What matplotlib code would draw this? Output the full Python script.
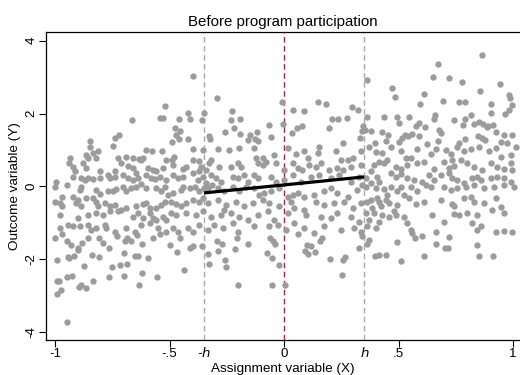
import matplotlib
matplotlib.use("Agg")
import matplotlib.pyplot as plt
import numpy as np

plt.rcParams['font.family'] = ['Liberation Sans', 'DejaVu Sans']
plt.rcParams['axes.unicode_minus'] = False

# bandwidth and local linear fit
h = 0.35
fit_x = [-0.35, 0.35]
fit_y = [-0.18, 0.26]

# scatter points, left part (x < -h)
x_left = [-0.40, -0.52, -0.665, -0.54, -0.53, -0.46, -0.42, -0.41, -0.35, -0.36, -0.74, -0.72, -0.85, -0.476, -0.473, -0.454, -0.46, -0.49, -0.42,
          -0.85, -0.835, -0.814, -0.748, -0.602, -0.576, -0.532, -0.399, -0.355, -0.935, -0.865, -0.857, -0.82, -0.726, -0.69, -0.658, -0.634, -0.617, -0.479, -0.489, -0.515,
          -0.94, -0.92, -0.915, -0.88, -0.867, -0.806, -0.74, -0.712, -0.683, -0.66, -0.646, -0.624, -0.595, -0.573, -0.559, -0.53, -0.486, -0.442, -0.428, -0.399, -0.37, -0.362, -0.37,
          -0.92, -0.886, -0.87, -0.857, -0.835, -0.806, -0.77, -0.762, -0.74, -0.704, -0.683, -0.66, -0.639, -0.602, -0.58, -0.566, -0.544, -0.515, -0.486, -0.464, -0.442, -0.399, -0.377, -0.355, -0.995, -0.95, -1.00,
          -0.886, -0.89, -0.82, -0.806, -0.77, -0.748, -0.733, -0.704, -0.69, -0.668, -0.646, -0.624, -0.602, -0.559, -0.537, -0.522, -0.508, -0.486, -0.45, -0.442, -0.413, -0.391, -0.37, -0.348, -0.97, -0.92, -0.90, -0.865, -0.835,
          -0.98, -0.97, -0.91, -0.886, -0.82, -0.814, -0.784, -0.762, -0.74, -0.69, -0.646, -0.617, -0.602, -0.588, -0.559, -0.537, -0.522, -0.493, -0.471, -0.45, -0.428, -0.399, -0.37, -0.355, -1.00,
          -0.98, -0.90, -0.857, -0.82, -0.79, -0.762, -0.726, -0.712, -0.66, -0.639, -0.617, -0.588, -0.573, -0.53, -0.515, -0.493, -0.471, -0.428, -0.384, -0.355, -0.624, -0.588, -0.559,
          -0.98, -0.944, -0.92, -0.89, -0.857, -0.843, -0.82, -0.784, -0.777, -0.74, -0.69, -0.653, -0.551, -0.515, -0.486, -0.464, -0.42, -0.399, -0.37,
          -1.00, -0.97, -0.95, -0.93, -0.90, -0.90, -0.884, -0.855, -0.81, -0.79, -0.767, -0.73, -0.695, -0.668, -0.687, -0.644, -0.622, -0.571, -0.542, -0.498, -0.454, -0.41, -0.396, -0.36,
          -0.99, -0.942, -0.94, -0.916, -0.84, -0.81, -0.698, -0.651, -0.64, -0.596, -0.469, -0.753, -0.716, -0.687, -0.872,
          -0.99, -0.983, -0.95, -0.928, -0.974, -0.99, -0.898, -0.887, -0.866, -0.833, -0.767, -0.698, -0.619, -0.634, -0.556, -0.436, -0.95]
y_left = [3.03, 2.22, 1.81, 1.88, 1.88, 1.85, 2.01, 1.85, 2.01, 1.81, 1.33, 1.42, 1.24, 1.61, 1.41, 1.52, 1.30, 1.22, 1.29,
          1.09, 0.91, 0.96, 1.11, 1.00, 0.98, 0.96, 1.03, 1.00, 0.79, 0.87, 0.77, 0.77, 0.77, 0.82, 0.79, 0.76, 0.77, 0.82, 0.73, 0.73,
          0.64, 0.52, 0.41, 0.64, 0.50, 0.41, 0.43, 0.64, 0.57, 0.50, 0.36, 0.73, 0.50, 0.45, 0.41, 0.50, 0.59, 0.48, 0.545, 0.73, 0.70, 0.545, 0.41,
          0.27, 0.22, 0.18, 0.22, 0.21, 0.22, 0.30, 0.22, 0.27, 0.32, 0.22, 0.18, 0.22, 0.32, 0.22, 0.21, 0.27, 0.18, 0.32, 0.22, 0.27, 0.36, 0.18, 0.27, 0.13, 0.04, -0.03,
          -0.005, -0.10, -0.10, -0.215, -0.14, -0.12, -0.07, -0.005, -0.14, -0.05, -0.005, 0.06, -0.05, -0.05, -0.14, -0.03, -0.23, -0.19, -0.10, -0.005, -0.05, -0.03, -0.14, -0.05, -0.28, -0.28, -0.37, -0.325, -0.325,
          -0.46, -0.55, -0.46, -0.55, -0.42, -0.55, -0.46, -0.55, -0.51, -0.60, -0.55, -0.49, -0.46, -0.60, -0.60, -0.51, -0.435, -0.42, -0.49, -0.55, -0.46, -0.37, -0.42, -0.325, -0.42,
          -0.78, -0.86, -0.78, -0.74, -0.78, -0.69, -0.69, -0.65, -0.83, -0.74, -0.86, -0.74, -0.87, -0.83, -0.92, -0.74, -0.78, -0.74, -0.78, -0.69, -1.06, -1.01, -0.92,
          -1.15, -1.06, -1.10, -1.10, -1.06, -1.20, -1.15, -1.06, -1.15, -1.24, -1.15, -1.24, -1.15, -1.24, -1.15, -1.26, -1.15, -1.26, -1.06,
          -1.41, -1.32, -1.49, -1.60, -1.69, -1.74, -1.55, -1.41, -1.41, -1.55, -1.69, -1.37, -1.51, -1.49, -1.41, -1.34, -1.58, -1.41, -1.32, -1.60, -1.41, -1.69, -1.64, -1.64,
          -2.01, -1.94, -1.98, -1.92, -1.89, -1.95, -1.83, -1.92, -1.92, -1.96, -1.80, -2.22, -2.15, -2.13, -2.20,
          -2.59, -2.61, -2.50, -2.46, -2.85, -2.97, -2.77, -2.72, -2.79, -2.59, -2.49, -2.46, -2.39, -2.70, -2.48, -2.29, -3.73]

# scatter points, middle part (-h < x < h)
x_mid = [-0.294, -0.01, 0.038, 0.087, 0.146, 0.183, 0.295, 0.322, -0.226, -0.234, -0.192, -0.217, -0.258, -0.192, -0.149, -0.156, -0.119, -0.068, -0.057, -0.003, 0.033, 0.055, 0.08, 0.208, 0.237, 0.274, 0.196, 0.346, 0.339, 0.332, -0.33, -0.323, -0.112, -0.127, 0.255,
         -0.29, -0.24, -0.196, -0.131, -0.123, -0.094, -0.043, 0.015, 0.051, 0.088, 0.102, 0.146, 0.153, 0.226, 0.248, 0.277, 0.299, 0.335, -0.32,
         -0.327, -0.283, -0.233, -0.203, -0.189, -0.116, -0.094, -0.08, -0.036, 0.0, 0.037, 0.059, 0.08, 0.11, 0.139, 0.16, 0.197, 0.233, 0.255, 0.291, 0.335, -0.342,
         -0.32, -0.298, -0.276, -0.225, -0.203, -0.174, -0.16, -0.131, -0.116, -0.058, -0.036, 0.0, 0.037, 0.073, 0.117, 0.153, 0.204, 0.24, 0.291, 0.328, -0.342, -0.313,
         -0.334, -0.29, -0.262, -0.225, -0.196, -0.167, -0.131, -0.109, -0.087, -0.058, -0.021, 0.015, 0.037, 0.059, 0.088, 0.131, 0.175, 0.204, 0.233, 0.277, 0.32, 0.342,
         -0.334, -0.29, -0.254, -0.211, -0.174, -0.138, -0.094, -0.065, -0.021, 0.03, 0.044, 0.088, 0.139, 0.175, 0.219, 0.262, 0.299, 0.335, -0.262,
         -0.32, -0.276, -0.233, -0.196, -0.16, -0.116, -0.072, -0.043, 0.015, 0.044, 0.095, 0.16, 0.204, 0.233, 0.291, 0.328, -0.305, -0.225,
         -0.334, -0.269, -0.203, -0.131, -0.065, -0.029, 0.007, 0.088, 0.131, 0.175, 0.248, 0.306, 0.335,
         -0.333, -0.33, -0.294, -0.29, -0.272, -0.26, -0.255, -0.214, -0.207, -0.202, -0.159, -0.076, -0.061, -0.054, -0.047, -0.04, -0.022, -0.051, 0.004, 0.06, 0.092, 0.099, 0.106, 0.118, 0.135, 0.157, 0.164, 0.201, 0.252, 0.259, 0.266, 0.325, 0.339]
y_mid = [2.43, 2.32, 2.11, 2.06, 2.32, 2.25, 2.17, 2.11, 2.06, 1.81, 1.84, 1.61, 1.50, 1.44, 1.42, 1.26, 1.50, 1.68, 1.35, 1.70, 1.47, 1.59, 1.67, 1.86, 1.84, 1.88, 1.61, 1.65, 1.52, 1.33, 1.38, 1.29, 1.24, 1.29, 1.19,
         1.03, 1.00, 1.05, 1.05, 0.77, 0.77, 0.87, 1.05, 0.88, 0.96, 0.77, 0.91, 1.09, 0.96, 0.73, 0.73, 0.79, 0.96, 0.73,
         0.64, 0.545, 0.545, 0.64, 0.545, 0.64, 0.59, 0.68, 0.64, 0.45, 0.64, 0.50, 0.45, 0.59, 0.545, 0.64, 0.45, 0.50, 0.45, 0.545, 0.59, 0.45,
         0.32, 0.22, 0.13, 0.27, 0.22, 0.32, 0.13, 0.32, 0.22, 0.27, 0.13, 0.18, 0.32, 0.13, 0.27, 0.32, 0.22, 0.32, 0.13, 0.27, 0.09, 0.04,
         -0.05, -0.05, -0.14, -0.005, -0.14, -0.005, -0.05, -0.23, -0.19, -0.14, -0.05, -0.28, -0.23, -0.19, -0.28, -0.23, -0.14, -0.05, -0.19, -0.28, -0.10, 0.04,
         -0.46, -0.37, -0.51, -0.42, -0.55, -0.46, -0.37, -0.46, -0.55, -0.42, -0.60, -0.65, -0.42, -0.51, -0.46, -0.42, -0.60, -0.46, -0.65,
         -0.83, -0.78, -0.74, -0.83, -0.92, -0.78, -0.69, -0.92, -0.74, -1.01, -0.78, -0.83, -0.87, -0.74, -0.83, -0.97, -1.06, -1.01,
         -1.20, -1.15, -1.26, -1.10, -1.10, -1.06, -1.20, -1.15, -1.29, -1.10, -1.20, -1.15, -1.26,
         -1.87, -2.13, -1.49, -1.78, -1.58, -2.01, -2.22, -1.71, -1.43, -2.70, -1.58, -1.84, -1.41, -1.96, -1.51, -1.58, -2.17, -2.71, -2.71, -1.32, -1.78, -1.60, -1.85, -1.64, -1.80, -1.51, -1.41, -1.99, -2.44, -2.01, -1.95, -1.69, -1.37]

# scatter points, right part (x > h)
x_right = [0.866, 0.674, 0.65, 0.718, 0.776, 0.944, 0.361, 0.473, 0.482, 0.609, 0.594, 0.693, 0.762, 0.788, 0.856, 0.98, 0.987, 0.904, 0.994, 0.98, 0.965, 0.904, 0.361, 0.434, 0.492, 0.50, 0.546, 0.66, 0.655, 0.74, 0.79, 0.817, 0.827, 0.783, 0.849, 0.87, 0.89, 0.914, 0.587, 0.575, 0.613, 0.354, 0.38, 0.427, 0.453, 0.50, 0.514, 0.526, 0.543, 0.56, 0.587, 0.677, 0.686, 0.671, 0.958, 0.994, 0.925, 0.885, 0.846, 0.863, 0.878, 0.948, 0.973, 0.764, 0.79, 0.398, 0.444, 0.623,
           0.371, 0.40, 0.429, 0.465, 0.509, 0.531, 0.553, 0.582, 0.64, 0.662, 0.706, 0.727, 0.757, 0.786, 0.815, 0.851, 0.895, 0.924, 0.946, 0.99, 1.011, 0.735,
           0.393, 0.414, 0.436, 0.451, 0.487, 0.509, 0.538, 0.582, 0.611, 0.655, 0.698, 0.72, 0.742, 0.771, 0.80, 0.829, 0.866, 0.902, 0.931, 0.96, 0.99, 0.997, 0.378,
           0.356, 0.407, 0.465, 0.487, 0.509, 0.538, 0.567, 0.604, 0.633, 0.655, 0.684, 0.72, 0.735, 0.757, 0.786, 0.822, 0.844, 0.858, 0.902, 0.931, 0.96, 0.99, 0.378, 0.414,
           0.356, 0.40, 0.436, 0.465, 0.509, 0.553, 0.582, 0.618, 0.64, 0.698, 0.727, 0.757, 0.793, 0.829, 0.873, 0.917, 0.96, 1.004, 0.524, 0.546, 0.407, 0.378, 0.451, 0.495,
           0.364, 0.414, 0.444, 0.458, 0.495, 0.575, 0.611, 0.684, 0.735, 0.742, 0.786, 0.815, 0.829, 0.873, 0.924, 0.946, 0.909, 0.385, 0.422, 0.48,
           0.356, 0.393, 0.429, 0.458, 0.487, 0.524, 0.647, 0.742, 0.764, 0.80, 0.844, 0.96, 0.371, 0.414, 0.538, 0.698, 0.822, 0.858,
           0.364, 0.40, 0.553, 0.56, 0.662, 0.844, 0.924, 0.96, 0.997,
           0.369, 0.495, 0.572, 0.604, 0.663, 0.703, 0.714, 0.718, 0.843, 0.395, 0.415, 0.444, 0.511, 0.609, 0.853, 0.914, 0.361]
y_right = [3.62, 3.37, 3.0, 2.98, 2.87, 2.80, 2.91, 2.71, 2.45, 2.54, 2.25, 2.34, 2.32, 2.32, 2.61, 2.50, 2.43, 2.27, 2.23, 2.11, 1.99, 2.02, 1.90, 1.90, 1.90, 1.74, 1.90, 1.95, 1.86, 1.83, 1.86, 1.95, 1.70, 1.68, 1.77, 1.70, 1.65, 1.68, 1.74, 1.65, 1.63, 1.56, 1.52, 1.50, 1.42, 1.22, 1.33, 1.40, 1.38, 1.44, 1.38, 1.56, 1.47, 1.24, 1.41, 1.41, 1.50, 1.62, 1.38, 1.33, 1.26, 1.22, 1.19, 1.19, 1.29, 1.19, 1.24, 1.17,
           1.09, 0.94, 0.91, 1.09, 0.96, 0.79, 0.79, 1.03, 0.88, 1.03, 1.00, 0.88, 1.09, 0.96, 1.03, 1.09, 0.98, 1.05, 0.82, 0.87, 1.09, 0.73,
           0.59, 0.68, 0.64, 0.73, 0.545, 0.48, 0.59, 0.64, 0.66, 0.48, 0.66, 0.50, 0.57, 0.73, 0.64, 0.545, 0.45, 0.64, 0.52, 0.48, 0.64, 0.45, 0.41,
           0.22, 0.27, 0.36, 0.27, 0.33, 0.22, 0.18, 0.13, 0.30, 0.18, 0.32, 0.36, 0.22, 0.18, 0.09, 0.22, 0.27, 0.18, 0.22, 0.27, 0.22, 0.13, 0.09, 0.13,
           -0.005, -0.05, -0.07, -0.03, -0.005, -0.005, -0.14, 0.04, -0.005, -0.005, -0.10, -0.05, -0.005, 0.04, -0.05, -0.03, 0.04, -0.005, -0.23, -0.325, -0.325, -0.37, -0.23, -0.14,
           -0.42, -0.42, -0.37, -0.46, -0.51, -0.49, -0.435, -0.37, -0.49, -0.55, -0.325, -0.28, -0.435, -0.46, -0.31, -0.58, -0.65, -0.60, -0.55, -0.69,
           -0.74, -0.74, -0.78, -0.83, -0.78, -0.83, -0.78, -0.76, -0.78, -0.74, -0.78, -0.74, -0.92, -0.98, -1.01, -0.98, -1.01, -1.10,
           -1.10, -1.15, -1.20, -1.29, -1.24, -1.20, -1.26, -1.22, -1.26,
           -1.46, -1.52, -1.43, -1.35, -1.58, -1.69, -1.69, -1.40, -1.60, -1.92, -1.89, -1.89, -2.06, -1.92, -1.92, -1.92, -1.58]

x_all = x_left + x_mid + x_right
y_all = y_left + y_mid + y_right

fig = plt.figure(figsize=(5.2, 3.75), dpi=100)
ax = fig.add_axes([46 / 520, 35 / 375, 474 / 520, 308 / 375])

ax.axvline(-h, color='#a8a8a8', lw=1, ls=(0, (4, 2.5)), zorder=1)
ax.axvline(h, color='#a8a8a8', lw=1, ls=(0, (4, 2.5)), zorder=1)
ax.axvline(0, color='#c8143c', lw=1, ls=(0, (4, 2.5)), zorder=1)

ax.scatter(x_all, y_all, s=21, color='#9c9c9c', linewidths=0, zorder=2)
ax.plot(fit_x, fit_y, color='black', lw=2.3, zorder=3, solid_capstyle='butt')

ax.set_xlim(-1.04, 1.03)
ax.set_ylim(-4.22, 4.24)

ax.set_xticks([-1, -0.5, 0, 0.5, 1])
ax.set_xticklabels(['-1', '-.5', '0', '.5', '1'])
ax.set_yticks([-4, -2, 0, 2, 4])
ax.set_yticklabels(['-4', '-2', '0', '2', '4'], rotation=90, va='center')
ax.tick_params(axis='both', direction='out', length=5, width=0.8, labelsize=9.6, pad=1)

for xv, lab in [(-h, '-$h$'), (h, '$h$')]:
    ax.text(xv, -0.02, lab, transform=ax.get_xaxis_transform(), ha='center', va='top',
            fontsize=9.6, style='italic')

ax.spines['right'].set_visible(False)
for s in ['left', 'bottom', 'top']:
    ax.spines[s].set_linewidth(0.9)

ax.set_title("Before program participation", fontsize=10.8, pad=4)
ax.set_xlabel("Assignment variable (X)", fontsize=9.7, va='center')
ax.set_ylabel("Outcome variable (Y)", fontsize=9.7, va='center')
ax.xaxis.set_label_coords(0.5, -0.094)
ax.yaxis.set_label_coords(-0.066, 0.5)

fig.savefig("out.png", dpi=100)
